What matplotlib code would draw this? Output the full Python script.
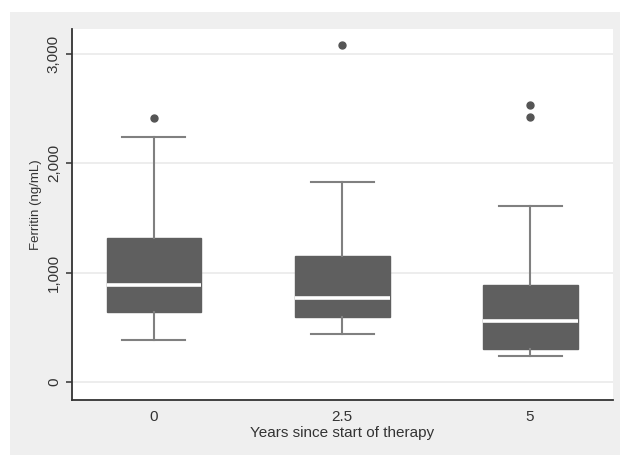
import numpy as np
import matplotlib
matplotlib.use('Agg')
import matplotlib.pyplot as plt
from matplotlib.patches import Rectangle

# values (ng/mL)
groups = ['0', '2.5', '5']
whislo = [388, 437, 241]
q1 = [638, 598, 300]
med = [885, 771, 561]
q3 = [1320, 1153, 888]
whishi = [2241, 1826, 1610]
fliers = [[2411], [3084], [2533, 2426]]

yticks = [0, 1000, 2000, 3000]

plt.rcParams['font.family'] = ['Liberation Sans', 'DejaVu Sans']

fig = plt.figure(figsize=(6.2, 4.55), dpi=100, facecolor='white')
# grey panel behind the plot, as in the Stata export
fig.patches.append(Rectangle((10 / 620, 0), 1, 1 - 12 / 455, transform=fig.transFigure,
                             facecolor='#efefef', edgecolor='none', zorder=-5))
ax = fig.add_axes([72 / 620, 1 - 400 / 455, 541 / 620, 371 / 455])
ax.set_facecolor('white')

stats = []
for i in range(len(groups)):
    stats.append(dict(whislo=whislo[i], q1=q1[i], med=med[i], q3=q3[i],
                      whishi=whishi[i], fliers=fliers[i], label=groups[i]))

pos = np.arange(len(groups))
ax.bxp(stats, positions=pos, widths=0.505, patch_artist=True,
       boxprops=dict(facecolor='#5f5f5f', edgecolor='#5f5f5f', linewidth=1),
       medianprops=dict(color='white', linewidth=2.6, solid_capstyle='butt'),
       whiskerprops=dict(color='#808080', linewidth=1.5),
       capprops=dict(color='#808080', linewidth=1.5),
       capwidths=0.335,
       flierprops=dict(marker='o', markerfacecolor='#555555', markeredgecolor='#555555',
                       markersize=5))

ax.set_xlim(-0.436, 2.441)
ax.set_ylim(-164, 3228)
ax.set_yticks(yticks)
ax.set_yticklabels(['{:,}'.format(v) for v in yticks], rotation=90, va='center')
ax.set_xticks(pos)
ax.set_xticklabels(groups)

ax.yaxis.grid(True, color='#eaeaea', linewidth=1.2)
ax.set_axisbelow(True)

for s in ['top', 'right']:
    ax.spines[s].set_visible(False)
for s in ['left', 'bottom']:
    ax.spines[s].set_color('#333333')
    ax.spines[s].set_linewidth(1.3)

ax.tick_params(axis='y', length=4, width=1.1, color='#333333', pad=4, labelsize=11, labelcolor='#333333')
ax.tick_params(axis='x', length=0, pad=7, labelsize=11, labelcolor='#333333')

ax.set_ylabel('Ferritin (ng/mL)', fontsize=9.5, color='#333333')
ax.yaxis.set_label_coords(-0.056, 0.526)
ax.set_xlabel('Years since start of therapy', fontsize=11, color='#333333')
ax.xaxis.set_label_coords(0.5, -0.07)

fig.savefig('out.png', dpi=100, facecolor='white')
